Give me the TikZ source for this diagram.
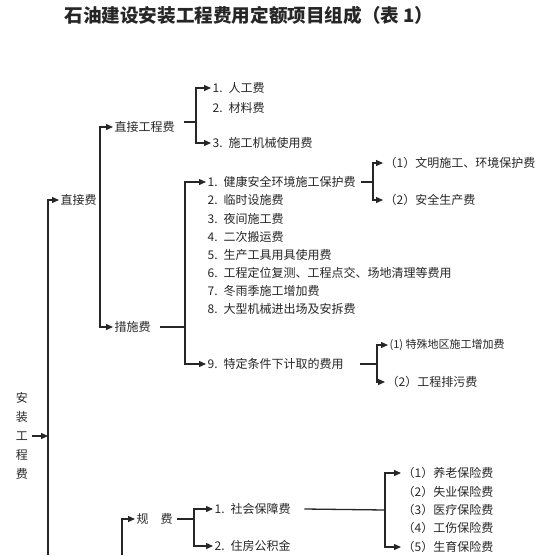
\documentclass[tikz,border=0pt]{standalone}
\usepackage{fontspec}
\setmainfont{Noto Sans CJK SC}
\usetikzlibrary{arrows.meta, positioning}

\begin{document}
\begin{tikzpicture}[x=1pt, y=-1pt, >={Triangle[length=7pt,width=6pt]},
    line width=1.3pt, color=black!85,
    item/.style={anchor=west, inner sep=1pt, font=\fontsize{12}{14}\selectfont}]
\useasboundingbox (0,0) rectangle (560,555);

\node[font=\fontsize{18.6}{20}\selectfont\bfseries] (title) at (249,15) {石油建设安装工程费用定额项目组成（表 1）};

% root
\node[align=center, inner sep=0, font=\fontsize{12}{19}\selectfont] (total) at (22,436) {安\\装\\工\\程\\费};
\coordinate (mbot) at (48,555);
\draw[->] ([xshift=3pt]total.east) -- (total.east -| mbot);
\node[item] (zjf) at (59,200) {直接费};
\draw[->] (mbot) |- (zjf.west);

% direct costs
\node[item] (zjgcf) at (113,127) {直接工程费};
\node[item] (csf) at (113,327) {措施费};
\coordinate (zjf-br) at (100,227);
\draw[->] (zjf-br) |- (zjgcf.west);
\draw[->] (zjf-br) |- (csf.west);

\node[item] (rgf) at (211,88) {1.\enspace 人工费};
\node[item] (clf) at (211,108) {2.\enspace 材料费};
\node[item] (jxf) at (211,143) {3.\enspace 施工机械使用费};
\coordinate (zjgcf-br) at (196,122);
\draw ([shift={(8pt,5pt)}]zjgcf.east) -- (zjgcf-br);
\draw[->] (zjgcf-br) |- (rgf.west);
\draw[->] (zjgcf-br) |- (jxf.west);

% measures
\node[item] (cs1) at (206,182) {1.\enspace 健康安全环境施工保护费};
\node[item] (cs2) at (206,200) {2.\enspace 临时设施费};
\node[item] (cs3) at (206,219) {3.\enspace 夜间施工费};
\node[item] (cs4) at (206,237) {4.\enspace 二次搬运费};
\node[item] (cs5) at (206,255) {5.\enspace 生产工具用具使用费};
\node[item] (cs6) at (206,273) {6.\enspace 工程定位复测、工程点交、场地清理等费用};
\node[item] (cs7) at (206,291) {7.\enspace 冬雨季施工增加费};
\node[item] (cs8) at (206,309) {8.\enspace 大型机械进出场及安拆费};
\node[item] (cs9) at (206,364) {9.\enspace 特定条件下计取的费用};
\coordinate (csf-br) at (185,327);
\draw ([xshift=8pt]csf.east) -- (csf-br);
\draw[->] (csf-br) |- (cs1.west);
\draw[->] (csf-br) |- (cs9.west);

\node[item] (wm) at (383,163) {（1）文明施工、环境保护费};
\node[item] (aq) at (383,200) {（2）安全生产费};
\coordinate (cs1-br) at (373,182);
\draw ([xshift=4pt]cs1.east) -- (cs1-br);
\draw[->] (cs1-br) |- (wm.west);
\draw[->] (cs1-br) |- (aq.west);

\node[item, font=\fontsize{11}{13}\selectfont] (ts) at (388,345) {(1) 特殊地区施工增加费};
\node[item] (pw) at (385,382) {（2）工程排污费};
\coordinate (cs9-br) at (377,364);
\draw ([xshift=15pt]cs9.east) -- (cs9-br);
\draw[->] (cs9-br) |- (ts.west);
\draw[->] (cs9-br) |- (pw.west);

% fees
\coordinate (jj-bot) at (122,555);
\node[item] (gf) at (135,519) {规\hspace{1em}费};
\draw[->] (jj-bot) |- (gf.west);

\node[item] (sb) at (213,509) {1.\enspace 社会保障费};
\node[item] (gjj) at (213,546) {2.\enspace 住房公积金};
\coordinate (gf-br) at (194,519);
\draw ([xshift=3pt]gf.east) -- (gf-br);
\draw[->] (gf-br) |- (sb.west);
\draw[->] (gf-br) |- (gjj.west);

\node[item] (yl) at (401,473) {（1）养老保险费};
\node[item] (sy) at (401,492) {（2）失业保险费};
\node[item] (yb) at (401,510) {（3）医疗保险费};
\node[item] (gs) at (401,528) {（4）工伤保险费};
\node[item] (sy2) at (401,547) {（5）生育保险费};
\coordinate (sb-br) at (385,510);
\draw ([xshift=12pt]sb.east) -- (sb-br);
\draw[->] (sb-br) |- (yl.west);
\draw[->] (sb-br) |- (sy2.west);
\end{tikzpicture}
\end{document}
